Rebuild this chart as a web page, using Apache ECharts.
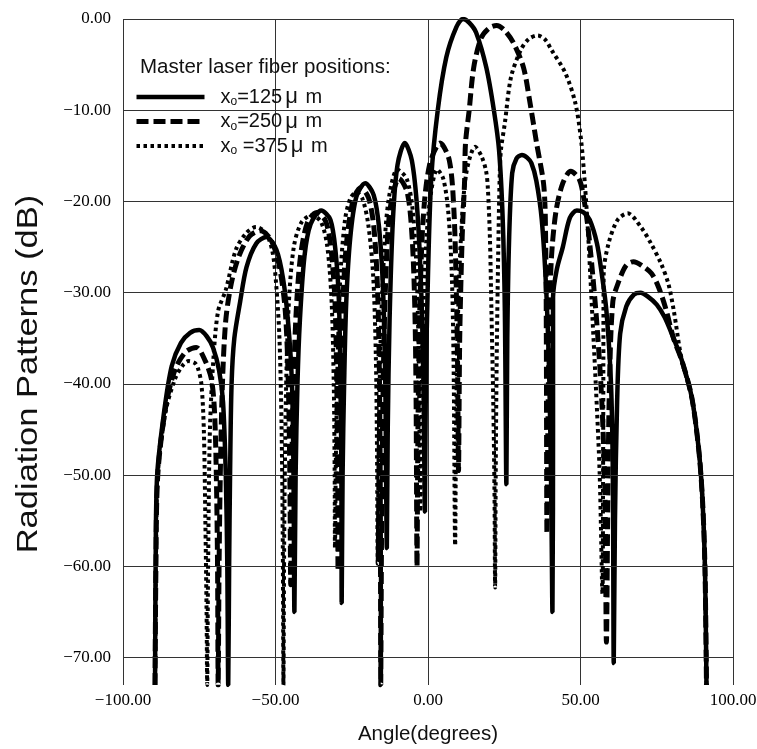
<!DOCTYPE html>
<html>
<head>
    <meta charset="utf-8">
    <title>Radiation Patterns</title>
    <script src="https://cdn.jsdelivr.net/npm/echarts@6/dist/echarts.min.js"></script>
</head>
<body style="margin:0">
    <div id="main" style="width: 757px;height:749px;"></div>
    <script type="text/javascript">
        // values: [angle, dB]
        var fiberPositions = [125, 250, 375];
        var yTicks = [0, -10, -20, -30, -40, -50, -60, -70];
        var xTicks = [-100, -50, 0, 50, 100];

        var x125 = [
            [-89.5,-73],[-89.3,-60],[-88.8,-50],[-86.5,-43],[-84,-38],[-81,-35.5],[-78,-34.4],[-75,-34.1],[-72.5,-34.8],[-70.5,-36],[-68.5,-38.5],[-67.2,-42],[-66.3,-50],[-65.8,-60],[-65.5,-73],
            [-65.2,-60],[-64.9,-50],[-64.4,-40],[-63.5,-35],[-61.6,-31],[-59.5,-27.2],[-56.3,-24.6],[-53,-23.9],[-49.7,-25.3],[-47.5,-28.5],[-45.8,-33.5],[-44.6,-40],[-44.1,-50],[-43.8,-65],
            [-43.4,-50],[-42.8,-40],[-42,-33],[-40.5,-26],[-38.5,-22.5],[-35,-21],[-32,-22],[-30.3,-25.5],[-29.2,-31],[-28.7,-40],[-28.4,-50],[-28.3,-64],
            [-28,-50],[-27.5,-40],[-26.8,-31],[-25.5,-24],[-23.5,-19.5],[-20.6,-18],[-17.8,-19.3],[-16,-23],[-14.7,-30],[-14,-40],[-13.5,-58],
            [-13.2,-45],[-12.6,-33],[-11.5,-22],[-10,-16],[-7.6,-13.6],[-5.3,-15.5],[-3.5,-21],[-2.2,-30],[-1.5,-40],[-1,-54],
            [-0.7,-40],[0,-28],[1.1,-17.3],[3.2,-10],[6,-4.2],[9.3,-0.9],[11.5,0],[13.5,-0.4],[15.8,-1.5],[19.1,-5.3],[21.6,-10],[23.3,-14.4],[24.5,-22],[25.2,-32],[25.7,-51],
            [26,-35],[26.6,-24],[27.6,-16.9],[29,-15.3],[30.8,-14.9],[32.5,-15.2],[33.9,-15.8],[35.5,-17.7],[37.3,-22],[38.8,-30],[39.8,-40],[40.4,-52],[40.8,-65],
            [41,-45],[41,-30.5],[42.2,-27.5],[44.2,-25],[46.5,-21.8],[48.8,-21],[51,-21.2],[53,-22],[55.4,-24.6],[57,-28],[58.5,-32],[60,-40],[60.6,-50],[60.9,-70.6],
            [61.3,-55],[62,-42],[63,-34.5],[65,-31.5],[67.5,-30.2],[69.7,-30],[72,-30.4],[75,-31.3],[77.6,-32.7],[80.5,-35],[83.2,-37.4],[86.5,-41.5],[88.8,-47.3],[90,-52.7],[90.8,-60],[91.3,-73]
        ];

        var x250 = [
            [-89.5,-73],[-89.2,-60],[-88.6,-50],[-86,-42.5],[-83,-38.5],[-79.5,-36.5],[-76,-36],[-73,-37.5],[-71,-39.5],[-70,-43],[-69.4,-50],[-69,-60],[-68.8,-73],
            [-68.5,-60],[-68.1,-50],[-67.4,-40],[-66.3,-33],[-64.5,-29],[-62,-26],[-58.5,-23.8],[-55,-23.2],[-51.5,-24.2],[-48.8,-27],[-46.8,-32],[-45.8,-40],[-45.3,-50],[-45,-62],
            [-44.7,-50],[-44.1,-40],[-43.2,-32],[-41.8,-26],[-39.5,-22.3],[-36.5,-21.2],[-33.5,-22.2],[-31.7,-25.5],[-30.5,-31],[-29.9,-40],[-29.6,-50],[-29.5,-60.5],
            [-29.2,-50],[-28.7,-40],[-27.9,-31],[-26.7,-24.5],[-24.5,-19.8],[-22,-18.5],[-19.5,-19.6],[-17.7,-23],[-16.5,-30],[-15.9,-40],[-15.6,-55],[-15.5,-73],
            [-15.2,-55],[-14.7,-40],[-13.9,-29],[-12.5,-21],[-9.5,-17.5],[-6.8,-19],[-5.2,-24],[-4.3,-32],[-3.9,-42],[-3.6,-60],
            [-3.3,-45],[-2.7,-32],[-1.6,-22],[0.5,-16],[4,-13.6],[7,-15.5],[8.5,-21],[9.3,-30],[9.7,-38],[10,-49.5],
            [10.4,-35],[11.2,-24],[12,-17.7],[12.3,-13.6],[13.5,-10],[15,-5.3],[17.4,-2.1],[20,-1],[22.5,-0.7],[25,-1.2],[28,-2.6],[31.3,-5.3],[33.3,-8.9],[35.6,-13.6],[38,-18.4],[38.6,-25],[38.8,-35],[39,-56.4],
            [39.3,-45],[39.8,-33],[40.5,-26],[42,-21],[44.2,-18],[46.8,-16.7],[49.5,-17.5],[51,-19.5],[52.5,-23],[54,-28],[55.5,-34],[57,-42],[58,-52],[58.5,-68.3],
            [58.9,-55],[59.5,-40],[60.6,-31],[62.5,-28.8],[65,-27],[67.4,-26.6],[70,-27],[73.3,-27.9],[75.6,-29.4],[78,-31.8],[80.5,-35],[83.2,-37.4],[86.5,-41.5],[88.8,-47.3],[90,-52.7],[90.8,-60],[91.3,-73]
        ];

        var x375 = [
            [-89.5,-73],[-89.2,-60],[-88.6,-50],[-86,-43],[-83,-39.5],[-80.5,-38],[-78.5,-37.5],[-76.5,-37.7],[-75.5,-38.2],[-74.3,-40],[-73.5,-45],[-73,-55],[-72.6,-65],[-72.4,-73],
            [-72.1,-60],[-71.5,-45],[-70.3,-37],[-68.8,-32],[-66.3,-29.7],[-63,-25.3],[-59.7,-23.5],[-56.4,-22.8],[-53.1,-23.5],[-51,-25.5],[-49.8,-29],[-48.7,-35],[-48,-45],[-47.6,-58],[-47.4,-73],
            [-47.1,-55],[-46.5,-40],[-45.6,-31],[-44,-25],[-41.5,-22.3],[-38,-21.5],[-35,-22.3],[-33,-25],[-31.6,-31],[-30.9,-40],[-30.6,-50],[-30.5,-58],
            [-30.2,-48],[-29.6,-37],[-28.7,-28],[-27.2,-22],[-25.5,-19.7],[-23.5,-19],[-21.5,-19.7],[-19.6,-22.5],[-18,-28],[-17.1,-37],[-16.7,-48],[-16.5,-59.7],
            [-16.2,-48],[-15.6,-36],[-14.6,-27],[-13,-20],[-10,-16.5],[-7,-17.5],[-5,-21],[-3.7,-28],[-3,-38],[-2.5,-54],
            [-2.2,-45],[-1.6,-33],[-0.5,-24],[1,-19],[3,-16.5],[5,-17.5],[6.6,-21],[7.8,-28],[8.4,-38],[8.9,-57.7],
            [9.2,-45],[9.8,-33],[10.8,-24],[12.5,-17],[15.5,-14],[17.5,-15],[19,-16.6],[19.6,-18.4],[20.3,-24],[20.8,-32],[21.4,-42],[21.8,-52],[22,-62.3],
            [22.2,-50],[22.5,-38],[23,-26],[23.5,-17.3],[23.9,-14.4],[25.2,-11.4],[27.2,-6.4],[30.4,-3.4],[33,-2.2],[36,-1.8],[38.5,-2.3],[40.5,-3.4],[45,-5.9],[48.3,-9.2],[50.2,-13.3],[51.5,-18.4],[52.4,-23],[53.5,-30],[55,-40],[56.3,-50],[57.2,-63],
            [57.4,-50],[57.5,-38],[57.6,-27.9],[59.2,-24.6],[62.2,-22],[65.5,-21.3],[69.8,-22.8],[73.1,-24.6],[76.4,-26.8],[78.8,-29],[80.6,-32],[83.2,-37.4],[86.5,-41.5],[88.8,-47.3],[90,-52.7],[90.8,-60],[91.3,-73]
        ];

        var myChart = echarts.init(document.getElementById('main'));

        var serif = '"Liberation Serif", "Times New Roman", serif';
        var sans = '"Liberation Sans", Arial, Helvetica, sans-serif';
        var names = fiberPositions.map(function(p){ return 'x₀=' + p + ' μm'; });
        var richNames = {};
        fiberPositions.forEach(function(p, i){
            richNames[names[i]] = '{x|x}{o|o}{t|' + (p === 375 ? ' ' : '') + '=' + p + '}{mu|μ}{t| m}';
        });

        function minus(v){
            return v.toFixed(2).replace('-', '\u2212');
        }

        var gridColor = '#333';

        var option = {
            animation: false,
            backgroundColor: '#fff',
            title: {
                text: 'Master laser fiber positions:',
                left: 135,
                top: 52,
                textStyle: {fontSize: 20.5, fontWeight: 'normal', fontFamily: sans, color: '#111'}
            },
            legend: {
                data: names,
                orient: 'vertical',
                left: 129,
                top: 81,
                itemWidth: 68,
                itemHeight: 14,
                itemGap: 2.5,
                itemStyle: {opacity: 0},
                lineStyle: {width: 'inherit'},
                textStyle: {
                    color: '#111',
                    rich: {
                        x: {fontSize: 20, fontFamily: sans, color: '#111', lineHeight: 22, padding: [0, 0, 0, 11]},
                        t: {fontSize: 20, fontFamily: sans, color: '#111', lineHeight: 22},
                        o: {fontSize: 12, fontFamily: sans, color: '#111', lineHeight: 14, verticalAlign: 'bottom'},
                        mu: {fontSize: 22, fontFamily: sans, color: '#111', lineHeight: 22, verticalAlign: 'top', padding: [0, 2, 0, 3]}
                    }
                },
                formatter: function(name){ return richNames[name]; }
            },
            grid: {left: 123, right: 24, top: 19, bottom: 64, outerBoundsMode: 'none'},
            xAxis: {
                type: 'value',
                min: -100,
                max: 100,
                interval: 50,
                name: 'Angle(degrees)',
                nameLocation: 'middle',
                nameGap: 39,
                nameTextStyle: {fontSize: 20.5, fontFamily: sans, color: '#111'},
                axisLine: {show: false},
                axisTick: {show: false},
                axisLabel: {
                    margin: 7,
                    fontSize: 17,
                    fontFamily: serif,
                    color: '#000',
                    formatter: minus
                },
                splitLine: {show: true, lineStyle: {color: gridColor, width: 1}}
            },
            yAxis: {
                type: 'value',
                min: -73,
                max: 0,
                axisLine: {show: false},
                axisTick: {show: false},
                splitLine: {show: false},
                axisLabel: {
                    customValues: yTicks,
                    margin: 12,
                    fontSize: 17,
                    fontFamily: serif,
                    color: '#000',
                    formatter: minus
                }
            },
            graphic: [{
                type: 'text',
                x: 29,
                y: 374,
                rotation: Math.PI / 2,
                scaleX: 1.15,
                style: {
                    text: 'Radiation Patterns (dB)',
                    fontSize: 30,
                    fontFamily: sans,
                    fill: '#111',
                    textAlign: 'center',
                    textVerticalAlign: 'middle'
                }
            }],
            series: [{
                name: names[0],
                type: 'line',
                data: x125,
                symbol: 'none',
                smooth: 0.3,
                lineStyle: {color: '#000', width: 4.5},
                markLine: {
                    silent: true,
                    symbol: ['none', 'none'],
                    label: {show: false},
                    lineStyle: {color: gridColor, width: 1, type: 'solid'},
                    data: yTicks.map(function(v){ return {yAxis: v}; })
                },
                z: 3
            }, {
                name: names[1],
                type: 'line',
                data: x250,
                symbol: 'none',
                smooth: 0.3,
                lineStyle: {color: '#000', width: 5, type: [12, 5], cap: 'butt'},
                z: 4
            }, {
                name: names[2],
                type: 'line',
                data: x375,
                symbol: 'none',
                smooth: 0.3,
                lineStyle: {color: '#000', width: 4, type: [3.5, 3.5], cap: 'butt'},
                z: 5
            }]
        };
        myChart.setOption(option);
    </script>
</body>
</html>
